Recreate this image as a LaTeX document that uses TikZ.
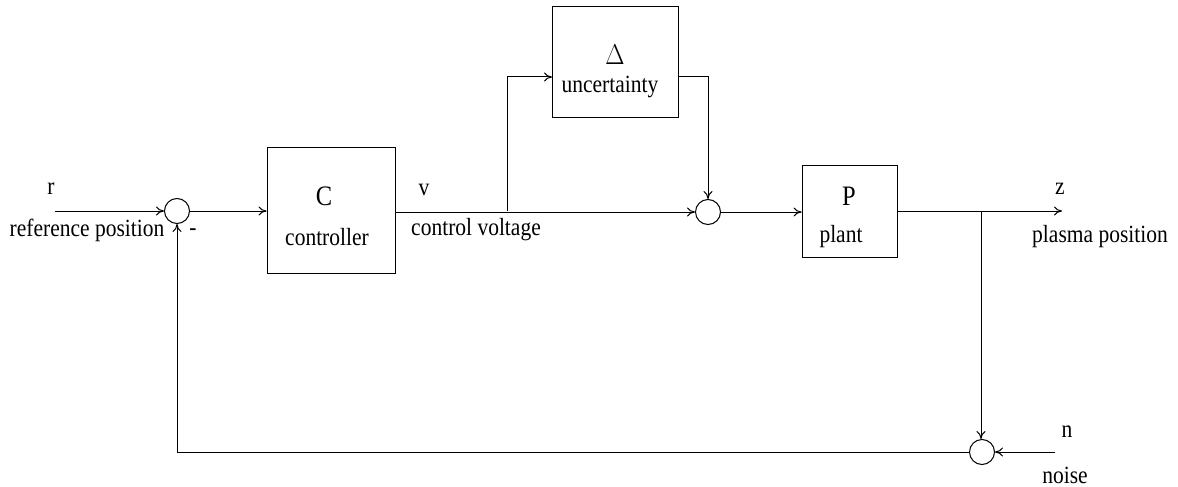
\documentclass[tikz,border=0pt]{standalone}
\usepackage{fontspec}
\usepackage{graphicx}
\setmainfont{Liberation Serif}
\usetikzlibrary{arrows.meta}
\newcommand{\vst}[1]{\scalebox{1}[1.15]{#1}}
\begin{document}
\begin{tikzpicture}[x=1pt,y=-1pt,
  line width=1pt,
  every node/.style={font=\fontsize{21.5}{25}\selectfont, inner sep=0pt},
  bigsym/.style={font=\fontsize{24.5}{28}\selectfont},
  sumnode/.style={circle, draw, minimum size=25pt},
  blockbox/.style={draw, rectangle},
  arr/.style={-{To[length=8pt,width=9pt]}}]
\useasboundingbox (0,0) rectangle (1178,487);
% blocks
\node[sumnode] (s1) at (177,211) {};
\node[blockbox, minimum width=128pt, minimum height=126pt] (C) at (331,210) {};
\node[blockbox, minimum width=126pt, minimum height=110pt] (D) at (615,62) {};
\node[sumnode] (s2) at (708,212) {};
\node[blockbox, minimum width=95pt, minimum height=92pt] (P) at (849.5,211) {};
\node[sumnode] (s3) at (982,452) {};
% texts
\node[bigsym] (tC) at (324,196) {\vst{C}};
\node (tctrl) at (327,237) {\vst{controller}};
\node[bigsym] (tD) at (615,55) {\vst{$\Delta$}};
\node (tunc) at (610,87) {\vst{uncertainty}};
\node[bigsym] (tP) at (849,196) {\vst{P}};
\node (tplant) at (841,237) {\vst{plant}};
\node (tr) at (51,189) {\vst{r}};
\node (tref) at (87,230) {\vst{reference position}};
\node (tminus) at (193,232) {\vst{-}};
\node (tv) at (424,190) {\vst{v}};
\node (tcv) at (476,230) {\vst{control voltage}};
\node (tz) at (1060,189) {\vst{z}};
\node (tpp) at (1100,237) {\vst{plasma position}};
\node (tn) at (1067,432) {\vst{n}};
\node (tnoise) at (1065,475) {\vst{noise}};
% coordinates
\coordinate (rin) at (55,211);
\coordinate (b1) at (507,211);
\coordinate (dup) at (507,77);
\coordinate (din) at (552,77);
\coordinate (dout) at (678,77);
\coordinate (zout) at (1062,211);
\coordinate (b2) at (981,211);
\coordinate (nin) at (1055,452);
\coordinate (fbl) at (177,452);
% connectors
\draw[arr] (rin) -- (s1.west);
\draw[arr] (s1.east) -- (C.west |- s1.east);
\draw[arr] (C.east |- s2.west) -- (s2.west);
\draw[arr] (b1) -- (dup) -- (din);
\draw[arr] (dout) -| (s2.north);
\draw[arr] (s2.east) -- (P.west |- s2.east);
\draw[arr] (P.east |- zout) -- (zout);
\draw[arr] (b2) -- (b2 |- s3.north);
\draw[arr] (nin) -- (s3.east);
\draw[arr] (s3.west) -- (fbl) -- (s1.south);
\end{tikzpicture}
\end{document}
